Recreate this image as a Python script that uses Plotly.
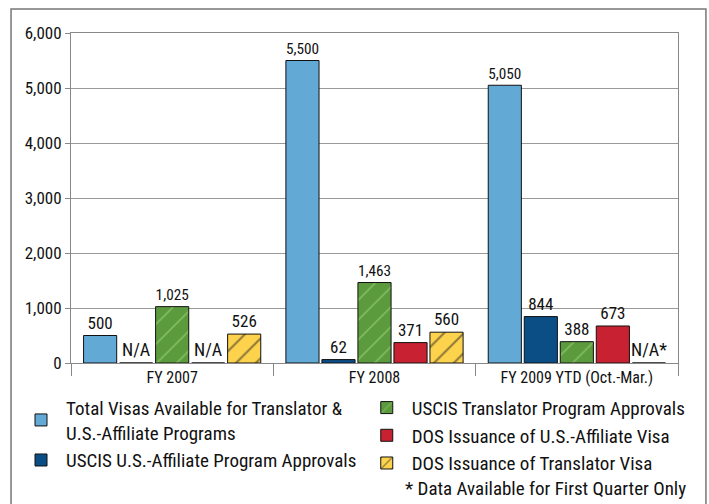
import plotly.graph_objects as go

categories = ["FY 2007", "FY 2008", "FY 2009 YTD (Oct.-Mar.)"]
series_names = [
    "Total Visas Available for Translator &<br>U.S.-Affiliate Programs",
    "USCIS U.S.-Affiliate Program Approvals",
    "USCIS Translator Program Approvals",
    "DOS Issuance of U.S.-Affiliate Visa",
    "DOS Issuance of Translator Visa",
]
total_visas = [500, 5500, 5050]
uscis_affiliate = [None, 62, 844]
uscis_translator = [1025, 1463, 388]
dos_affiliate = [None, 371, 673]
dos_translator = [526, 560, None]
na_labels = [["", "", ""], ["N/A", "", ""], ["", "", ""], ["N/A", "", ""], ["", "", "N/A*"]]
y_ticks = [0, 1000, 2000, 3000, 4000, 5000, 6000]
footnote = "* Data Available for First Quarter Only"

series_values = [total_visas, uscis_affiliate, uscis_translator, dos_affiliate, dos_translator]
colors = ["#62A9D6", "#0B4E85", "#5C9A3E", "#C82131", "#FDD24C"]
patterns = [None, None, dict(shape="/", fgcolor="#A6DB80", size=14, solidity=0.12),
            None, dict(shape="/", fgcolor="#222222", size=14, solidity=0.15)]
legend_ids = ["legend", "legend", "legend2", "legend2", "legend2"]

FONT = "Liberation Sans Narrow, Arial Narrow, Roboto Condensed, Roboto, sans-serif"
TXT = "#111111"

fig = go.Figure()
for name, vals, col, pat, lg in zip(series_names, series_values, colors, patterns, legend_ids):
    marker = dict(color=col, line=dict(color="#111111", width=1))
    if pat:
        marker["pattern"] = pat
    fig.add_trace(go.Bar(
        x=categories, y=vals, name=name, marker=marker, legend=lg,
        text=[f"{v:,}" if v is not None else "" for v in vals],
        textposition="outside", cliponaxis=False,
        textfont=dict(family=FONT, size=17, color=TXT),
    ))

bargap = 0.11
bargroupgap = 0.08
n = len(series_values)
slot = (1 - bargap) / n
for i, labs in enumerate(na_labels):
    off = -(1 - bargap) / 2 + slot * (i + 0.5)
    for j, lab in enumerate(labs):
        if lab:
            fig.add_annotation(x=j + off, y=0, xref="x", yref="y", text=lab, showarrow=False,
                               yanchor="bottom", yshift=1, font=dict(family=FONT, size=18, color=TXT))
            w = slot * (1 - bargroupgap) / 2
            fig.add_shape(type="line", xref="x", yref="y", x0=j + off - w, x1=j + off + w, y0=0, y1=0,
                          line=dict(color="#111111", width=1.5))

fig.add_shape(type="rect", xref="paper", yref="paper", x0=-0.0988, x1=1.046, y0=-0.46, y1=1.0727,
              line=dict(color="#777777", width=1.5))

fig.add_annotation(x=1.0165, y=-0.379, xref="paper", yref="paper", text=footnote,
                   xanchor="right", yanchor="middle", showarrow=False,
                   font=dict(family=FONT, size=19, color=TXT))

fig.update_layout(
    width=709, height=504,
    margin=dict(l=71, r=31, t=33, b=141, autoexpand=False),
    paper_bgcolor="white", plot_bgcolor="white",
    barmode="group", bargap=bargap, bargroupgap=bargroupgap,
    font=dict(family=FONT, size=17, color=TXT),
    legend=dict(x=-0.0906, y=-0.078, xanchor="left", yanchor="top",
                bgcolor="rgba(0,0,0,0)", font=dict(family=FONT, size=19, color=TXT), itemwidth=40),
    legend2=dict(x=0.479, y=-0.078, xanchor="left", yanchor="top",
                 bgcolor="rgba(0,0,0,0)", font=dict(family=FONT, size=19, color=TXT), itemwidth=40),
    showlegend=True,
)
fig.update_xaxes(type="category", range=[-0.5, 2.5], autorange=False, showline=True, linecolor="#888888",
                 mirror=True, ticks="outside", tickson="boundaries", ticklen=12, tickcolor="#888888",
                 tickfont=dict(family=FONT, size=16, color=TXT))
fig.update_yaxes(range=[0, 6000], autorange=False, tickvals=y_ticks, tickformat=",", showgrid=True,
                 gridcolor="#999999", showline=True, linecolor="#888888", mirror=True,
                 ticks="outside", ticklen=5, tickcolor="#888888", zeroline=False,
                 tickfont=dict(family=FONT, size=17, color=TXT))
fig.write_html("out.html", config={"displayModeBar": False},
               post_script="document.body.style.margin='0';")
